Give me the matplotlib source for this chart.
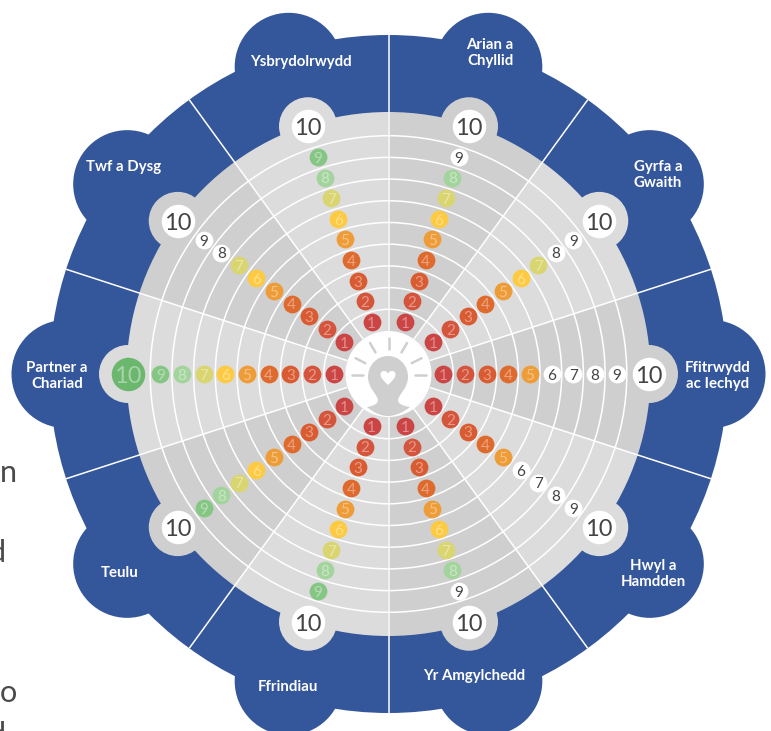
import numpy as np
import matplotlib
matplotlib.use("Agg")
import matplotlib.pyplot as plt
from matplotlib.patches import Circle, Wedge, PathPatch
from matplotlib.path import Path

# dados do gráfico, sentido horário a partir do topo
categorias = ["Arian a\nChyllid", "Gyrfa a\nGwaith", "Ffitrwydd\nac Iechyd", "Hwyl a\nHamdden",
              "Yr Amgylchedd", "Ffrindiau", "Teulu", "Partner a\nChariad", "Twf a Dysg", "Ysbrydolrwydd"]
pontuacao = [8, 7, 5, 5, 8, 9, 9, 10, 7, 9]
niveis = [1, 2, 3, 4, 5, 6, 7, 8, 9, 10]
cores_nivel = ["#cb4545", "#d4553c", "#d95b32", "#de6a2e", "#ee9c38",
               "#fdca42", "#d9d570", "#a4d49d", "#86c684", "#6cb76e"]
texto_corte = ["n", "d", "o", "d"]

# layout em pixels
CX, CY = 388.5, 374
AZUL = "#34569b"
ESCURO = "#cfcfcf"
CLARO = "#dcdcdc"
R_AZUL = 339
R_CINZA = 262
R_LOBO = 54
R_LOBO_CENTRO = 323
R_BASE = 43
PASSO = 21.7
label_xy = [(490, 53), (658, 175), (718, 376), (653, 574), (474, 676),
            (288, 687), (120, 573), (57, 376), (124, 167), (301, 62)]
corte_xy = [(-3, 482), (-14, 562), (-3, 702), (-14, 744)]


def polar(r, ang):
    t = np.radians(ang)
    return CX + r * np.sin(t), CY - r * np.cos(t)


def raio_nivel(n):
    if n == 10:
        return 260.5
    return 33 + PASSO * n


def area(d):
    return (d * 0.72) ** 2


fig = plt.figure(figsize=(7.71, 7.31), dpi=100)
ax = fig.add_axes([0, 0, 1, 1])
ax.set_xlim(0, 771)
ax.set_ylim(731, 0)
ax.axis("off")

n_set = len(categorias)
angulos = [18 + 36 * i for i in range(n_set)]

# fundo azul
ax.add_patch(Circle((CX, CY), R_AZUL, color=AZUL, lw=0, zorder=1))
for a in angulos:
    ax.add_patch(Circle(polar(R_LOBO_CENTRO, a), R_LOBO, color=AZUL, lw=0, zorder=1))

# setores cinza
for i, a in enumerate(angulos):
    cor = ESCURO if i % 2 == 0 else CLARO
    ax.add_patch(Circle(polar(raio_nivel(10), a), 29, color=cor, lw=0, zorder=2))
    # y invertido: os ângulos do Wedge correm no sentido horário na tela
    ax.add_patch(Wedge((CX, CY), R_CINZA, a - 18 - 90, a + 18 - 90, color=cor, lw=0, zorder=2))

# raios e anéis brancos
for a in angulos:
    x0, y0 = polar(R_BASE, a - 18)
    x1, y1 = polar(R_AZUL, a - 18)
    ax.plot([x0, x1], [y0, y1], color="white", lw=1.1, zorder=3, solid_capstyle="butt")
for k in range(1, 10):
    ax.add_patch(Circle((CX, CY), R_BASE + PASSO * k, fill=False, ec="white", lw=1.1, zorder=3))

# ícone central
ax.add_patch(Circle((CX, CY), R_BASE, color="white", lw=0, zorder=4))
for a in [-90, -63, -30, 0, 30, 63, 90]:
    x0, y0 = polar(26, a)
    x1, y1 = polar(37, a)
    ax.plot([x0, x1], [y0 + 1, y1 + 1], color=ESCURO, lw=1.8, zorder=5, solid_capstyle="round")

cabeca = Path(
    [(368, 377), (368, 365), (377, 356), (388, 356),
     (399, 356), (408, 365), (408, 377),
     (408, 388), (399, 394), (398, 400),
     (398, 404), (403, 406), (410, 407),
     (402, 413), (395, 416), (388, 416),
     (381, 416), (374, 413), (367, 407),
     (373, 406), (378, 404), (378, 400),
     (377, 394), (368, 388), (368, 377)],
    [Path.MOVETO] + [Path.CURVE4] * 24)
ax.add_patch(PathPatch(cabeca, fc=ESCURO, ec="none", zorder=5))

coracao = Path(
    [(388, 385), (384, 381), (380.5, 378), (380.5, 374.5),
     (380.5, 370.5), (386, 369.5), (388, 373.5),
     (390, 369.5), (395.5, 370.5), (395.5, 374.5),
     (395.5, 378), (392, 381), (388, 385)],
    [Path.MOVETO] + [Path.CURVE4] * 12)
ax.add_patch(PathPatch(coracao, fc="white", ec="none", zorder=6))

# marcadores
for a, valor in zip(angulos, pontuacao):
    for n, cor in zip(niveis, cores_nivel):
        x, y = polar(raio_nivel(n), a)
        cheio = n <= valor
        d = 33.5 if n == 10 else 17.8
        ax.scatter([x], [y], s=area(d), c=cor if cheio else "white", linewidths=0, zorder=7)
        fs = 17 if n == 10 else 11
        ax.text(x, y + 0.3, str(n), ha="center", va="center_baseline", fontsize=fs, family="Lato",
                color="white" if cheio else "#444444", alpha=0.4 if cheio else 1, zorder=8)

# rótulos das categorias
for nome, (x, y) in zip(categorias, label_xy):
    ax.text(x, y, nome, ha="center", va="center", fontsize=10.8, family="Lato",
            fontweight="bold", color="white", linespacing=1.25, zorder=9)

# texto cortado na margem esquerda
for letra, (x, y) in zip(texto_corte, corte_xy):
    ax.text(x + 3, y, letra, ha="left", va="baseline", fontsize=22, family="Lato",
            color="#4a4a4a", zorder=9, clip_on=True)

fig.savefig("out.png", dpi=100)
